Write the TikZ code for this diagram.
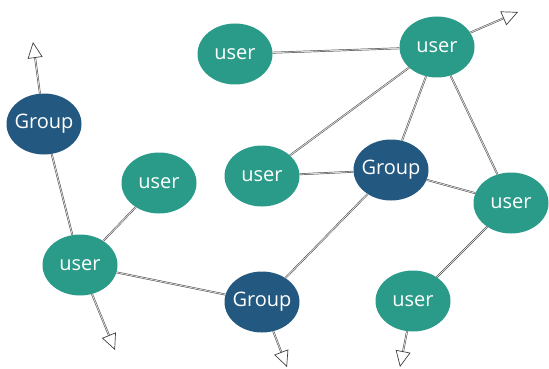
\documentclass[tikz,border=0pt]{standalone}
\usepackage{fontspec}
\setmainfont{Open Sans}
\usetikzlibrary{shapes.geometric,arrows.meta}
\definecolor{teal1}{RGB}{42,155,136}
\definecolor{blue1}{RGB}{35,88,128}
\tikzset{
  base/.style={ellipse, minimum width=75pt, minimum height=61pt, inner xsep=-12pt, inner ysep=0pt, text=white, font=\fontsize{20}{20}\selectfont},
  usr/.style={base, fill=teal1},
  grp/.style={base, fill=blue1},
  link/.style={draw=black!75, line width=0.45pt, double=white!85!black, double distance=0.9pt},
  outarrow/.style={link, -{Triangle[open, length=16pt, width=15pt, line width=0.7pt, sep=0pt]}}
}
\begin{document}
\begin{tikzpicture}[x=1pt,y=-1pt]
\useasboundingbox (0,0) rectangle (549,369);
\node[usr] (u1) at (235,54) {user};
\node[usr] (u2) at (437,47) {user};
\node[grp] (g1) at (44,124) {Group};
\node[usr] (u3) at (159,183) {user};
\node[usr] (u4) at (262,176) {user};
\node[grp] (g2) at (391,170) {Group};
\node[usr] (u5) at (511,203) {user};
\node[usr] (u6) at (80,265) {user};
\node[grp] (g3) at (262,302) {Group};
\node[usr] (u7) at (413,301) {user};
\coordinate (a1) at (33,42);
\coordinate (a2) at (518,12);
\coordinate (a3) at (115,350);
\coordinate (a4) at (287,367);
\coordinate (a5) at (400,367);
\draw[link] (u1) -- (u2);
\draw[link] (u2) -- (u4);
\draw[link] (u2) -- (g2);
\draw[link] (u2) -- (u5);
\draw[link] (u4) -- (g2);
\draw[link] (g2) -- (u5);
\draw[link] (g2) -- (g3);
\draw[link] (u5) -- (u7);
\draw[link] (u6) -- (g3);
\draw[link] (u6) -- (u3);
\draw[link] (u6) -- (g1);
\draw[outarrow] (g1) -- (a1);
\draw[outarrow] (u2) -- (a2);
\draw[outarrow] (u6) -- (a3);
\draw[outarrow] (g3) -- (a4);
\draw[outarrow] (u7) -- (a5);
\end{tikzpicture}
\end{document}
